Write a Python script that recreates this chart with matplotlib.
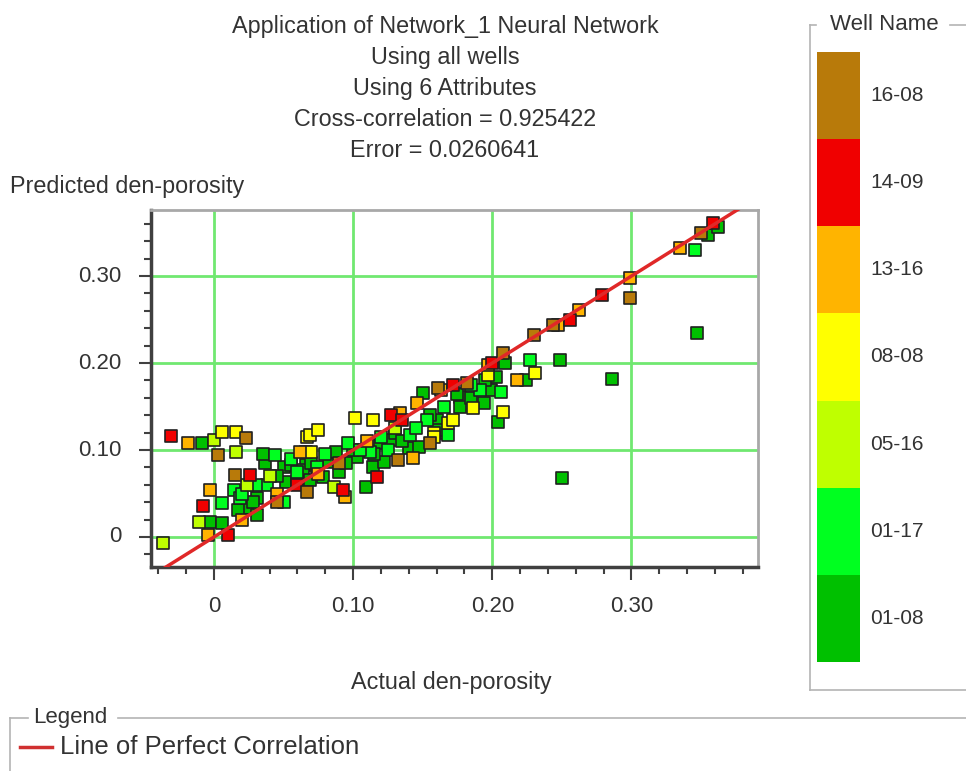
import numpy as np
import matplotlib.pyplot as plt
from matplotlib.lines import Line2D
from matplotlib.ticker import MultipleLocator

plt.rcParams['font.family'] = ['Liberation Sans', 'DejaVu Sans']

# well names (bottom to top in the colour key) and their colours
wells = ['01-08', '01-17', '05-16', '08-08', '13-16', '14-09', '16-08']
well_colors = ['#00C000', '#00FF20', '#BFFF00', '#FFFF00', '#FFB400', '#F00000', '#B87A0A']

# actual / predicted den-porosity per well
x_0108 = [-0.009, -0.003, 0.006, 0.024, 0.017, 0.031, 0.031, 0.037, 0.035, 0.050, 0.052, 0.066,
          0.064, 0.055, 0.060, 0.069, 0.078, 0.083, 0.088, 0.103, 0.109, 0.114, 0.119, 0.122,
          0.127, 0.140, 0.147, 0.150, 0.160, 0.166, 0.161, 0.177, 0.177, 0.194, 0.199, 0.203,
          0.204, 0.209, 0.224, 0.249, 0.286, 0.250, 0.347, 0.355, 0.362, 0.090, 0.100, 0.130, 0.185,
          0.028, 0.045, 0.070, 0.095, 0.115, 0.135, 0.155, 0.175, 0.195]
y_0108 = [0.108, 0.017, 0.016, 0.033, 0.031, 0.045, 0.025, 0.085, 0.096, 0.081, 0.063, 0.083,
          0.077, 0.083, 0.062, 0.066, 0.069, 0.086, 0.098, 0.092, 0.057, 0.081, 0.108, 0.086,
          0.111, 0.102, 0.103, 0.166, 0.134, 0.120, 0.123, 0.161, 0.149, 0.154, 0.169, 0.184,
          0.132, 0.200, 0.180, 0.203, 0.182, 0.068, 0.234, 0.347, 0.356, 0.075, 0.100, 0.120, 0.160,
          0.040, 0.070, 0.085, 0.085, 0.095, 0.110, 0.140, 0.165, 0.180]

x_0117 = [0.014, 0.019, 0.006, 0.038, 0.044, 0.060, 0.074, 0.096, 0.112, 0.141, 0.153, 0.168,
          0.191, 0.206, 0.227, 0.346, 0.050, 0.080, 0.120, 0.020, 0.030, 0.055, 0.105, 0.125,
          0.145, 0.165, 0.185]
y_0117 = [0.054, 0.045, 0.039, 0.060, 0.094, 0.075, 0.081, 0.108, 0.098, 0.117, 0.134, 0.117,
          0.169, 0.167, 0.203, 0.330, 0.040, 0.095, 0.115, 0.050, 0.060, 0.090, 0.100, 0.100,
          0.125, 0.150, 0.175]

x_0516 = [0.000, 0.016, -0.011, -0.037, 0.086, 0.024, 0.040, 0.130]
y_0516 = [0.111, 0.098, 0.017, -0.007, 0.057, 0.060, 0.070, 0.125]

x_0808 = [0.006, 0.016, 0.067, 0.066, 0.069, 0.075, 0.070, 0.101, 0.114, 0.158, 0.168, 0.172,
          0.186, 0.197, 0.208, 0.231, 0.158]
y_0808 = [0.121, 0.121, 0.115, 0.098, 0.117, 0.123, 0.098, 0.137, 0.134, 0.120, 0.131, 0.134,
          0.148, 0.186, 0.144, 0.189, 0.115]

x_1316 = [-0.019, -0.003, -0.004, 0.045, 0.062, 0.094, 0.146, 0.134, 0.143, 0.163, 0.197, 0.218,
          0.247, 0.262, 0.299, 0.335, 0.020, 0.110, 0.075]
y_1316 = [0.108, 0.054, 0.002, 0.050, 0.098, 0.046, 0.154, 0.143, 0.091, 0.169, 0.198, 0.180,
          0.244, 0.261, 0.298, 0.332, 0.020, 0.110, 0.073]

x_1409 = [-0.031, -0.008, 0.026, 0.093, 0.117, 0.256, 0.359, 0.010, 0.127, 0.279, 0.172, 0.060,
          0.135, 0.200]
y_1409 = [0.116, 0.036, 0.071, 0.054, 0.069, 0.249, 0.361, 0.002, 0.140, 0.278, 0.175, 0.060,
          0.135, 0.200]

x_1608 = [0.023, 0.003, 0.015, 0.067, 0.155, 0.132, 0.161, 0.182, 0.208, 0.299, 0.244, 0.230,
          0.350, 0.090, 0.045]
y_1608 = [0.114, 0.094, 0.071, 0.052, 0.108, 0.089, 0.171, 0.177, 0.211, 0.275, 0.244, 0.232,
          0.349, 0.085, 0.040]

xs = [x_0108, x_0117, x_0516, x_0808, x_1316, x_1409, x_1608]
ys = [y_0108, y_0117, y_0516, y_0808, y_1316, y_1409, y_1608]

W, H = 966, 771
fig = plt.figure(figsize=(W / 100, H / 100), dpi=100)
fig.patch.set_facecolor('white')

def fx(px):
    return px / W

def fy(py):
    return 1 - py / H

ax = fig.add_axes([fx(151), fy(567), fx(758) - fx(151), fy(210) - fy(567)])
ax.set_xlim(-0.0453, 0.391)
ax.set_ylim(-0.0345, 0.376)

for xv, yv, c in zip(xs, ys, well_colors):
    ax.scatter(xv, yv, s=72, marker='s', c=c, edgecolors='#202020', linewidths=1.2, zorder=3)

ax.plot([-0.035, 0.4], [-0.035, 0.4], color='#E02828', lw=2.5, zorder=4)

ax.xaxis.set_major_locator(MultipleLocator(0.1))
ax.xaxis.set_minor_locator(MultipleLocator(0.02))
ax.yaxis.set_major_locator(MultipleLocator(0.1))
ax.yaxis.set_minor_locator(MultipleLocator(0.02))
ax.set_xticklabels([])
ax.set_yticklabels([])
ax.grid(True, which='major', color='#70E870', lw=2, zorder=1)
ax.tick_params(which='major', length=9, width=1.5, color='#404040', direction='out')
ax.tick_params(which='minor', length=5, width=1.5, color='#404040', direction='out')
for s in ['left', 'bottom']:
    ax.spines[s].set_color('#404040')
    ax.spines[s].set_linewidth(2.5)
for s in ['top', 'right']:
    ax.spines[s].set_color('#A8A8A8')
    ax.spines[s].set_linewidth(2)

tc = '#333333'
for v, lab in zip([0.0, 0.1, 0.2, 0.3], ['0', '0.10', '0.20', '0.30']):
    ax.text(v, -0.035 - 0.045, lab, ha='center', va='center', fontsize=16, color=tc,
            clip_on=False)
    ax.text(-0.0453 - 0.021, v, lab, ha='right', va='center', fontsize=16, color=tc,
            clip_on=False)

title_lines = ['Application of Network_1 Neural Network', 'Using all wells', 'Using 6 Attributes',
               'Cross-correlation = 0.925422', 'Error = 0.0260641']
for i, t in enumerate(title_lines):
    fig.text(fx(445), fy(26 + i * 31.2), t, ha='center', va='center', fontsize=16.8, color=tc)

fig.text(fx(10), fy(187), 'Predicted den-porosity', ha='left', va='center', fontsize=16.8, color=tc)
fig.text(fx(451), fy(683), 'Actual den-porosity', ha='center', va='center', fontsize=16.8, color=tc)

# colour key for well names
kax = fig.add_axes([fx(817), fy(662), fx(860) - fx(817), fy(52) - fy(662)])
kax.bar(np.zeros(len(wells)), np.ones(len(wells)), bottom=np.arange(len(wells)), width=1,
        color=well_colors, align='center')
kax.set_xlim(-0.5, 0.5)
kax.set_ylim(0, len(wells))
kax.axis('off')
for i, w in enumerate(wells):
    kax.text(0.74, i + 0.5, w, ha='left', va='center', fontsize=15, color=tc)

gray = '#B4B4B4'
fig.add_artist(Line2D([fx(810), fx(810)], [fy(25), fy(690)], color=gray, lw=1.2))
fig.add_artist(Line2D([fx(810), fx(966)], [fy(690), fy(690)], color=gray, lw=1.2))
fig.add_artist(Line2D([fx(810), fx(816)], [fy(25), fy(25)], color=gray, lw=1.2))
fig.add_artist(Line2D([fx(950), fx(966)], [fy(25), fy(25)], color=gray, lw=1.2))
fig.text(fx(884), fy(25), 'Well Name', ha='center', va='center', fontsize=16, color=tc)

# legend box
fig.add_artist(Line2D([fx(10), fx(10)], [fy(718), fy(771)], color=gray, lw=1.2))
fig.add_artist(Line2D([fx(10), fx(28)], [fy(718), fy(718)], color=gray, lw=1.2))
fig.add_artist(Line2D([fx(118), fx(966)], [fy(718), fy(718)], color=gray, lw=1.2))
fig.text(fx(33), fy(718), 'Legend', ha='left', va='center', fontsize=16, color=tc)
fig.add_artist(Line2D([fx(20), fx(52)], [fy(747), fy(747)], color='#D03030', lw=2.5))
fig.text(fx(60), fy(747), 'Line of Perfect Correlation', ha='left', va='center', fontsize=18.5, color=tc)

fig.savefig('out.png', dpi=100)
